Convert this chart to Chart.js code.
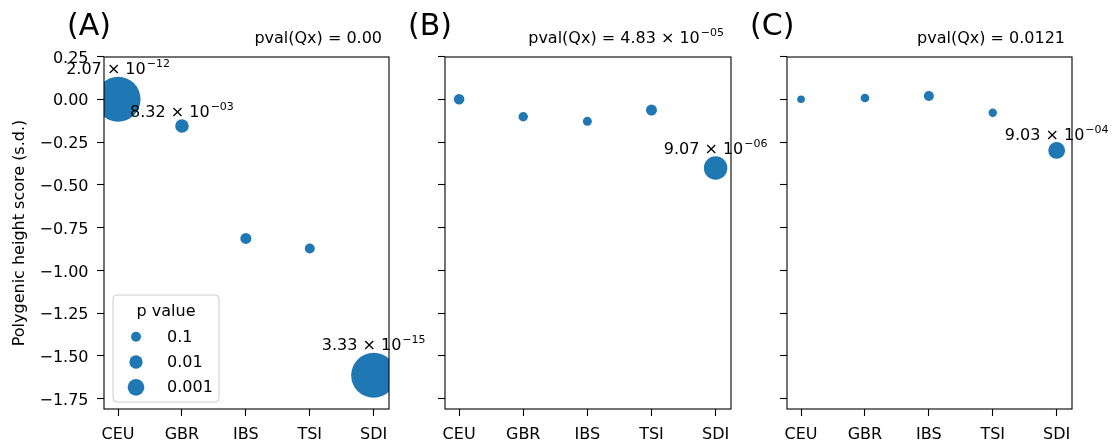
<!DOCTYPE html>
<html>
<head>
<meta charset="utf-8">
<script src="https://cdn.jsdelivr.net/npm/chart.js@4"></script>
<style>
  html, body { margin: 0; padding: 0; background: #fff; }
  #wrap { position: relative; width: 1114px; height: 444px; }
  #wrap canvas { position: absolute; left: 0; top: 0; }
</style>
</head>
<body>
<div id="wrap">
  <canvas id="panelA" width="1114" height="444"></canvas>
  <canvas id="panelB" width="1114" height="444"></canvas>
  <canvas id="panelC" width="1114" height="444"></canvas>
</div>
<script>
// populations on the x axis
const CATEGORIES = ['CEU', 'GBR', 'IBS', 'TSI', 'SDI'];
const PANEL_NAMES = ['(A)', '(B)', '(C)'];
const QX_PVALS = ['0.00', '4.83e-05', '0.0121'];

// polygenic height score (s.d.) per population
const SCORE_A = [0.00, -0.156, -0.813, -0.872, -1.613];
const SCORE_B = [0.00, -0.102, -0.129, -0.063, -0.402];
const SCORE_C = [0.00, 0.007, 0.019, -0.079, -0.299];

// p values per population (bubble size)
const PVAL_A = [2.07e-12, 8.32e-3, 0.05, 0.1, 3.33e-15];
const PVAL_B = [0.066, 0.15, 0.2, 0.05, 9.07e-6];
const PVAL_C = [0.5, 0.26, 0.1, 0.3, 9.03e-4];

const LEGEND_PVALS = [0.1, 0.01, 0.001];
const Y_TICKS = [0.25, 0, -0.25, -0.5, -0.75, -1, -1.25, -1.5, -1.75];

const BLUE = '#1f77b4';
const FONT = '"DejaVu Sans"';
const MINUS = '\u2212';

// chart area edges of each panel
const PANEL_LEFT = [104, 445, 787];
const PANEL_RIGHT = [389, 731, 1072];

Chart.defaults.font.family = FONT;
Chart.defaults.font.size = 16;
Chart.defaults.color = '#000';

function radiusOf(p) {
  return Math.min(3.33 + 1.667 * -Math.log10(p), 22.5);
}

function fmtSci(p) {
  const [m, e] = p.toExponential(2).split('e');
  const n = parseInt(e, 10);
  return { main: m + ' \u00d7 10', exp: (n < 0 ? MINUS : '') + String(Math.abs(n)).padStart(2, '0') };
}

function drawSci(ctx, parts, x, y, align) {
  ctx.font = '16px ' + FONT;
  const w1 = ctx.measureText(parts.main).width;
  ctx.font = '11px ' + FONT;
  const w2 = parts.exp ? ctx.measureText(parts.exp).width + 1 : 0;
  let x0 = x;
  if (align === 'center') x0 = x - (w1 + w2) / 2;
  if (align === 'right') x0 = x - (w1 + w2);
  ctx.textAlign = 'left';
  ctx.textBaseline = 'alphabetic';
  ctx.fillStyle = '#000';
  ctx.font = '16px ' + FONT;
  ctx.fillText(parts.main, x0, y);
  if (parts.exp) {
    ctx.font = '11px ' + FONT;
    ctx.fillText(parts.exp, x0 + w1 + 1, y - 7);
  }
}

const decor = {
  id: 'decor',
  afterDatasetsDraw(chart, args, opts) {
    const { ctx, chartArea: a } = chart;
    const idx = opts.index;
    ctx.save();
    // axes box
    ctx.lineWidth = 1.1;
    ctx.strokeStyle = '#000';
    ctx.strokeRect(a.left, a.top, a.right - a.left, a.bottom - a.top);

    // panel letter
    ctx.fillStyle = '#000';
    ctx.font = '30px ' + FONT;
    ctx.textAlign = 'left';
    ctx.textBaseline = 'alphabetic';
    ctx.fillText(PANEL_NAMES[idx], a.left - 37, 35);

    // Qx title
    const q = QX_PVALS[idx];
    const qp = q.includes('e') ? fmtSci(Number(q)) : { main: q, exp: '' };
    drawSci(ctx, { main: 'pval(Qx) = ' + qp.main, exp: qp.exp }, a.right - 7, 43, 'right');

    // annotations of significant points
    const pv = opts.pvals;
    const meta = chart.getDatasetMeta(0);
    pv.forEach((p, i) => {
      if (p >= 0.01) return;
      const el = meta.data[i];
      drawSci(ctx, fmtSci(p), el.x, el.y - radiusOf(p) - 2.5, 'center');
    });

    // size legend in panel A
    if (idx === 0) {
      const lx = a.left + 9, ly = a.bottom - 114, lw = 106, lh = 107;
      ctx.beginPath();
      ctx.roundRect(lx, ly, lw, lh, 4);
      ctx.fillStyle = 'rgba(255,255,255,0.8)';
      ctx.fill();
      ctx.strokeStyle = '#cccccc';
      ctx.lineWidth = 1;
      ctx.stroke();
      ctx.fillStyle = '#000';
      ctx.font = '16px ' + FONT;
      ctx.textAlign = 'center';
      ctx.fillText('p value', lx + lw / 2, ly + 21);
      LEGEND_PVALS.forEach((p, i) => {
        const cy = ly + 41.7 + i * 25.3;
        ctx.beginPath();
        ctx.arc(lx + 23, cy, radiusOf(p), 0, Math.PI * 2);
        ctx.fillStyle = BLUE;
        ctx.fill();
        ctx.fillStyle = '#000';
        ctx.textAlign = 'left';
        ctx.textBaseline = 'middle';
        ctx.fillText(String(p), lx + 54, cy + 1);
        ctx.textBaseline = 'alphabetic';
      });
    }
    ctx.restore();
  }
};

function makePanel(id, idx, scores, pvals) {
  const yWidth = idx === 0 ? 104 : 8;
  return new Chart(document.getElementById(id), {
    type: 'bubble',
    data: {
      datasets: [{
        data: scores.map((s, i) => ({ x: i, y: s, r: radiusOf(pvals[i]) })),
        backgroundColor: BLUE,
        borderWidth: 0,
        hoverRadius: 0,
        clip: 0,
      }],
    },
    options: {
      responsive: false,
      animation: false,
      devicePixelRatio: 1,
      events: [],
      layout: {
        padding: { left: PANEL_LEFT[idx] - yWidth, right: 1114 - PANEL_RIGHT[idx], top: 57, bottom: 0 },
      },
      plugins: {
        legend: { display: false },
        tooltip: { enabled: false },
        decor: { index: idx, pvals },
      },
      scales: {
        x: {
          type: 'linear',
          min: -0.22,
          max: 4.24,
          afterBuildTicks: (s) => { s.ticks = CATEGORIES.map((c, i) => ({ value: i })); },
          afterFit: (s) => { s.height = 35; },
          grid: { drawOnChartArea: false, color: '#000', tickLength: 7, tickWidth: 1.1 },
          border: { display: false },
          ticks: { padding: 9, callback: (v) => CATEGORIES[v], maxRotation: 0, autoSkip: false },
        },
        y: {
          min: -1.81,
          max: 0.247,
          afterBuildTicks: (s) => { s.ticks = Y_TICKS.map((v) => ({ value: v })); },
          afterFit: (s) => { s.width = yWidth; },
          grid: { drawOnChartArea: false, color: '#000', tickLength: 7, tickWidth: 1.1 },
          border: { display: false },
          ticks: {
            display: idx === 0,
            padding: 8.5,
            labelOffset: 2,
            callback: (v) => v.toFixed(2).replace('-', MINUS),
          },
          title: {
            display: idx === 0,
            text: 'Polygenic height score (s.d.)',
            font: { size: 16 },
            padding: { top: 10, bottom: 0 },
          },
        },
      },
    },
    plugins: [decor],
  });
}

makePanel('panelA', 0, SCORE_A, PVAL_A);
makePanel('panelB', 1, SCORE_B, PVAL_B);
makePanel('panelC', 2, SCORE_C, PVAL_C);
</script>
</body>
</html>
